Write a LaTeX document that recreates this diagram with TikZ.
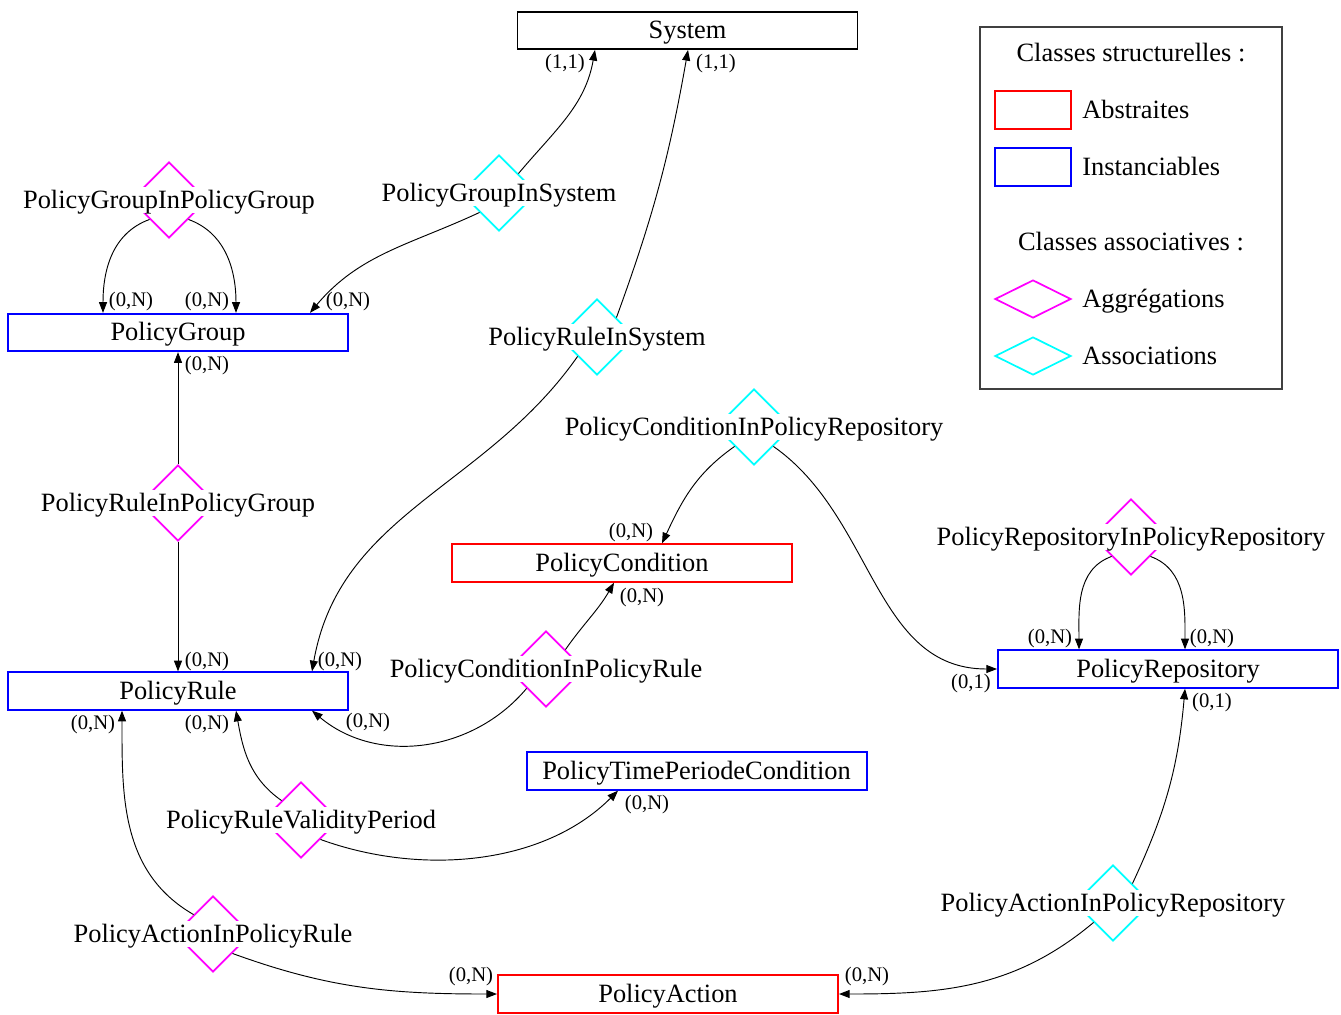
\documentclass[tikz,border=0pt]{standalone}
\usepackage{fontspec}
\setmainfont{Liberation Serif}
\usetikzlibrary{shapes.geometric,arrows.meta}

\definecolor{aggcol}{RGB}{255,0,255}
\definecolor{asscol}{RGB}{0,255,255}
\definecolor{abscol}{RGB}{255,0,0}
\definecolor{instcol}{RGB}{0,0,255}

\tikzset{
  mainfont/.style={font=\fontsize{19.8}{24}\selectfont, text height=15pt, text depth=3pt},
  cls/.style={draw, line width=1.5pt, minimum width=255pt, minimum height=28pt,
    inner sep=0pt, mainfont},
  abstr/.style={cls, draw=abscol},
  inst/.style={cls, draw=instcol},
  sysbox/.style={cls, draw=black, line width=1.2pt},
  relshape/.style={diamond, draw, line width=1.3pt, minimum width=57pt,
    minimum height=57pt, inner sep=0pt, aspect=1},
  aggr/.style={relshape, draw=aggcol},
  asso/.style={relshape, draw=asscol},
  dlabel/.style={fill=white, inner sep=1pt, mainfont},
  card/.style={inner sep=0pt, font=\fontsize{15.5}{18}\selectfont, text height=11.6pt, text depth=2.3pt},
  conn/.style={line width=0.7pt, -{Triangle[length=8pt,width=6pt]}},
  legtext/.style={inner sep=0pt, mainfont},
}

\begin{document}
\begin{tikzpicture}[x=0.75pt, y=-0.75pt]
\useasboundingbox (0,0) rectangle (1341,1014);

% structural classes
\node[sysbox] (system)  at (687.5,30.5) {System};
\node[inst]   (pgroup)  at (178,332.5)  {PolicyGroup};
\node[inst]   (prule)   at (178,691)    {PolicyRule};
\node[abstr]  (pcond)   at (622,563)    {PolicyCondition};
\node[inst]   (ptime)   at (696.5,771)  {PolicyTimePeriodeCondition};
\node[inst]   (prepo)   at (1168,669)   {PolicyRepository};
\node[abstr]  (paction) at (668,994)    {PolicyAction};

% associative classes
\node[aggr] (dpgpg)   at (169,200)  {};
\node[asso] (dpgsys)  at (499,193)  {};
\node[asso] (dprsys)  at (597,337)  {};
\node[aggr] (dprpg)   at (178,503)  {};
\node[asso] (dpcrepo) at (754,427)  {};
\node[aggr] (dpcpr)   at (546,669)  {};
\node[aggr] (dprr)    at (1131,537) {};
\node[aggr] (dval)    at (301,820)  {};
\node[aggr] (dpapr)   at (213,934)  {};
\node[asso] (dparepo) at (1113,903) {};

\node[dlabel] (lpgpg)   at (169,200)  {PolicyGroupInPolicyGroup};
\node[dlabel] (lpgsys)  at (499,193)  {PolicyGroupInSystem};
\node[dlabel] (lprsys)  at (597,337)  {PolicyRuleInSystem};
\node[dlabel] (lprpg)   at (178,503)  {PolicyRuleInPolicyGroup};
\node[dlabel] (lpcrepo) at (754,427)  {PolicyConditionInPolicyRepository};
\node[dlabel] (lpcpr)   at (546,669)  {PolicyConditionInPolicyRule};
\node[dlabel] (lprr)    at (1131,537) {PolicyRepositoryInPolicyRepository};
\node[dlabel] (lval)    at (301,820)  {PolicyRuleValidityPeriod};
\node[dlabel] (lpapr)   at (213,934)  {PolicyActionInPolicyRule};
\node[dlabel] (lparepo) at (1113,903) {PolicyActionInPolicyRepository};

% connectors
\draw[conn] (dpgpg.south west) to[out=200,in=90] (103,0 |- pgroup.north);
\draw[conn] (dpgpg.south east) to[out=-20,in=90] (236,0 |- pgroup.north);

\draw[conn] (dpgsys.north east) to[out=50,in=-100] (595,0 |- system.south);
\draw[conn] (dpgsys.south west) to[out=205,in=50] (310,0 |- pgroup.north);

\draw[conn] (dprsys.north east) to[out=70,in=-100] (688,0 |- system.south);
\draw[conn] (dprsys.south west) to[out=235,in=80] (312,0 |- prule.north);

\draw[conn] (dprpg.north) -- (pgroup.south);
\draw[conn] (dprpg.south) -- (prule.north);

\draw[conn] (dpcrepo.south west) to[out=215,in=65] (662,0 |- pcond.north);
\draw[conn] (dpcrepo.south east) to[out=-35,in=180] (prepo.west);

\draw[conn] (dpcpr.north east) to[out=55,in=-120] (614,0 |- pcond.south);
\draw[conn] (dpcpr.south west) to[out=-130,in=-40] (312,0 |- prule.south);

\draw[conn] (dprr.south west) to[out=200,in=90] (1079,0 |- prepo.north);
\draw[conn] (dprr.south east) to[out=-20,in=90] (1185,0 |- prepo.north);

\draw[conn] (dval.north west) to[out=145,in=-80] (236,0 |- prule.south);
\draw[conn] (dval.south east) to[out=-20,in=-135,looseness=0.9] (618,0 |- ptime.south);

\draw[conn] (dpapr.north west) to[out=150,in=-90] (122,0 |- prule.south);
\draw[conn] (dpapr.south east) to[out=-20,in=180] (paction.west);

\draw[conn] (dparepo.north east) to[out=65,in=-95] (1185,0 |- prepo.south);
\draw[conn] (dparepo.south west) to[out=-140,in=0] (paction.east);

% cardinalities
\node[card] (c1)  at (131,300) {(0,N)};
\node[card] (c2)  at (207,300) {(0,N)};
\node[card] (c3)  at (348,300) {(0,N)};
\node[card] (c4)  at (565,62)  {(1,1)};
\node[card] (c5)  at (716,62)  {(1,1)};
\node[card] (c6)  at (207,364) {(0,N)};
\node[card] (c7)  at (207,660) {(0,N)};
\node[card] (c8)  at (340,660) {(0,N)};
\node[card] (c9)  at (631,531) {(0,N)};
\node[card] (c10) at (642,596) {(0,N)};
\node[card] (c11) at (971,682) {(0,1)};
\node[card] (c12) at (1050,637) {(0,N)};
\node[card] (c13) at (1212,637) {(0,N)};
\node[card] (c14) at (1212,701) {(0,1)};
\node[card] (c15) at (93,723)  {(0,N)};
\node[card] (c16) at (207,723) {(0,N)};
\node[card] (c17) at (368,721) {(0,N)};
\node[card] (c18) at (647,803) {(0,N)};
\node[card] (c19) at (471,975) {(0,N)};
\node[card] (c20) at (867,975) {(0,N)};

% legend
\draw[draw=black!75, line width=0.9pt] (980,27) rectangle (1282,389);
\node[legtext] (lgs) at (1131,53) {Classes structurelles :};
\node[draw=abscol, line width=1.5pt, minimum width=57pt, minimum height=28.5pt, inner sep=0pt] (lgabs) at (1033,110) {};
\node[legtext, anchor=west] (lgabst) at (1082,110) {Abstraites};
\node[draw=instcol, line width=1.5pt, minimum width=57pt, minimum height=28.5pt, inner sep=0pt] (lginst) at (1033,167) {};
\node[legtext, anchor=west] (lginstt) at (1082,167) {Instanciables};
\node[legtext] (lga) at (1131,242) {Classes associatives :};
\node[diamond, draw=aggcol, line width=1.3pt, minimum width=57pt, minimum height=28.5pt, inner sep=0pt, aspect=2] (lgagg) at (1033,299) {};
\node[legtext, anchor=west] (lgaggt) at (1082,299) {Aggrégations};
\node[diamond, draw=asscol, line width=1.3pt, minimum width=57pt, minimum height=28.5pt, inner sep=0pt, aspect=2] (lgass) at (1033,356) {};
\node[legtext, anchor=west] (lgasst) at (1082,356) {Associations};
\end{tikzpicture}
\end{document}
